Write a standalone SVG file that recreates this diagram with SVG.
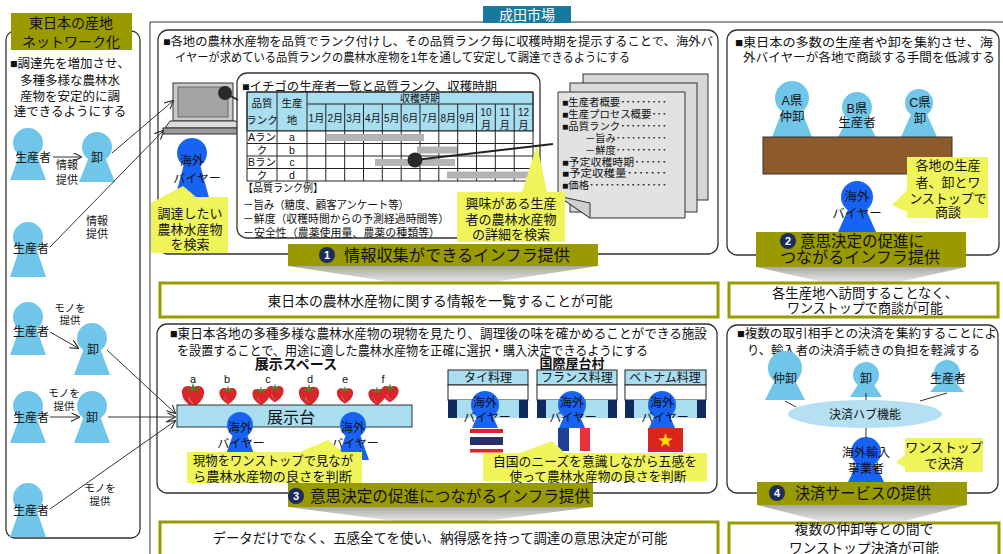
<svg xmlns="http://www.w3.org/2000/svg" width="1003" height="554" viewBox="0 0 1003 554">
<defs>
<style>
text{font-family:"Liberation Sans","Noto Sans CJK JP",sans-serif;fill:#111}
.m{text-anchor:middle}
.f10{font-size:10px}.f105{font-size:10.5px}.f11{font-size:11px}.f12{font-size:12px}.f125{font-size:12.5px}.f13{font-size:13px}.f135{font-size:13.5px}.f14{font-size:14px}.f16{font-size:16px}
.b{font-weight:bold}
.pn{fill:#fff;stroke:#333;stroke-width:1.3}
.bn{fill:#999900}
.rs{fill:#fff;stroke:#999900;stroke-width:3}
.lb{fill:#6fc6e8}
.bb{fill:#1763f4}
.cl{fill:#eef45a}
.ln{stroke:#333;stroke-width:1;fill:none}
.gl{stroke:#222;stroke-width:1;fill:none}
.hd{fill:#a9ddf0;stroke:#222;stroke-width:1}
.bar{fill:#b3b3b3}
.nv{fill:#0e2a5e}
.lt{fill:#a9ddf0}
.num{fill:#1c2d5c}
.numt{fill:#fff;font-weight:bold;font-size:11px;text-anchor:middle}
.wd{fill:url(#wg)}
.pg{stroke:#333;stroke-width:1}
</style>
<linearGradient id="wg" x1="0" y1="0" x2="0" y2="1">
<stop offset="0" stop-color="#a8a8a8"/><stop offset="1" stop-color="#ebebeb"/>
</linearGradient>
<marker id="ar" viewBox="0 0 10 10" refX="9" refY="5" markerWidth="9" markerHeight="9" orient="auto" markerUnits="userSpaceOnUse">
<path d="M0,0 L10,5 L0,10" fill="none" stroke="#333" stroke-width="1.3"/>
</marker>
<g id="berry">
<path d="M0,-6 C6,-9 11,-6 10,0 C9,6 4,10 0,12 C-4,10 -9,6 -10,0 C-11,-6 -6,-9 0,-6 Z" fill="#d8262a"/>
<path d="M-4,3 C-3,6 -1,8 0,9" stroke="#f07070" stroke-width="1" fill="none"/>
<path d="M-7,-7 L-2,-4 L0,-10 L2,-4 L8,-7 L3,-3 L-3,-3 Z" fill="#3d8c2c"/>
</g>
</defs>

<rect width="1003" height="554" fill="#fff"/>

<!-- left column: eastern Japan production network -->
<g id="left-panel">
<rect x="6" y="31" width="134" height="507" rx="9" class="pn"/>
<rect x="11" y="13" width="121" height="37" class="bn"/>
<text x="71" y="28" class="m f14">東日本の産地</text>
<text x="71" y="47" class="m f14">ネットワーク化</text>
<text x="70" y="68" class="m f125">■調達先を増加させ、</text>
<text x="70" y="85" class="m f125">多種多様な農林水</text>
<text x="70" y="101" class="m f125">産物を安定的に調</text>
<text x="70" y="116" class="m f125">達できるようにする</text>
</g>

<g id="producer-1"><circle cx="28" cy="143" r="15" class="lb"/><polygon points="21,150.5 35,150.5 46,180 10,180" class="lb"/><text x="33" y="161.5" class="m f12">生産者</text></g>
<g id="wholesaler-1"><circle cx="97" cy="147" r="15" class="lb"/><polygon points="90,154.5 104,154.5 115,182 79,182" class="lb"/><text x="97" y="161.5" class="m f12">卸</text></g>
<g id="producer-2"><circle cx="28" cy="237" r="15" class="lb"/><polygon points="21,244.5 35,244.5 46,277 10,277" class="lb"/><text x="31" y="252.5" class="m f12">生産者</text></g>
<g id="producer-3"><circle cx="28" cy="317" r="15" class="lb"/><polygon points="21,324.5 35,324.5 46,355 10,355" class="lb"/><text x="31" y="335.5" class="m f12">生産者</text></g>
<g id="wholesaler-3"><circle cx="92" cy="338" r="15" class="lb"/><polygon points="85,345.5 99,345.5 110,375 74,375" class="lb"/><text x="93" y="353.5" class="m f12">卸</text></g>
<g id="producer-4"><circle cx="28" cy="406" r="15" class="lb"/><polygon points="21,413.5 35,413.5 46,443 10,443" class="lb"/><text x="31" y="421.5" class="m f12">生産者</text></g>
<g id="wholesaler-4"><circle cx="92" cy="406" r="15" class="lb"/><polygon points="85,413.5 99,413.5 110,443 74,443" class="lb"/><text x="92" y="421.5" class="m f12">卸</text></g>
<g id="producer-5"><circle cx="28" cy="498" r="15" class="lb"/><polygon points="21,505.5 35,505.5 46,537 10,537" class="lb"/><text x="31" y="514.5" class="m f12">生産者</text></g>

<!-- flow labels -->
<g id="flow-labels">
<text x="67" y="169" class="m f11">情報</text><text x="67" y="184" class="m f11">提供</text>
<text x="97" y="225" class="m f11">情報</text><text x="97" y="238" class="m f11">提供</text>
<text x="70" y="312" class="m f105">モノを</text><text x="70" y="324" class="m f105">提供</text>
<text x="64" y="397" class="m f105">モノを</text><text x="64" y="410" class="m f105">提供</text>
<text x="100" y="492" class="m f105">モノを</text><text x="100" y="505" class="m f105">提供</text>
</g>

<!-- Narita market frame -->
<g id="narita-frame">
<path d="M150,554 V22 H1003" class="ln" stroke-width="1.2"/>
<rect x="483" y="6" width="88" height="17" fill="#17799e"/>
<text x="527" y="20" class="m f14" style="fill:#fff">成田市場</text>
</g>

<!-- 1: information infrastructure -->
<g id="panel-1">
<rect x="158" y="30" width="560" height="224" rx="10" class="pn"/>
<text x="163" y="46" class="f12" textLength="550" lengthAdjust="spacingAndGlyphs">■各地の農林水産物を品質でランク付けし、その品質ランク毎に収穫時期を提示することで、海外バ</text>
<text x="175" y="62" class="f12" textLength="455" lengthAdjust="spacingAndGlyphs">イヤーが求めている品質ランクの農林水産物を1年を通して安定して調達できるようにする</text>
</g>

<g id="laptop">
<rect x="173" y="83" width="60" height="38" fill="#c9c9c9" stroke="#333" stroke-width="1"/>
<rect x="178" y="87" width="50" height="30" fill="#a3a3a3" stroke="#555" stroke-width="0.8"/>
<polygon points="170,121 236,121 241,128 165,128" fill="#dcdcdc" stroke="#333" stroke-width="1"/>
<rect x="163" y="128" width="80" height="6" fill="#9a9a9a" stroke="#333" stroke-width="1"/>
</g>

<g id="buyer-1"><circle cx="192" cy="153" r="15" class="bb"/><polygon points="185,160.5 199,160.5 211,205 173,205" class="bb"/><text x="192" y="164.5" class="m f12">海外</text><text x="197" y="182.5" class="m f12">バイヤー</text></g>

<g id="strawberry-table">
<rect x="237" y="73" width="303" height="165" rx="10" class="pn"/>
<text x="242" y="90.5" class="f12" textLength="255" lengthAdjust="spacingAndGlyphs">■イチゴの生産者一覧と品質ランク、収穫時期</text>
<rect x="247" y="92" width="286" height="39" class="hd"/>
<rect x="247" y="131" width="286" height="50" fill="#fff"/>
<path class="gl" d="M247,92H533M307,104H533M247,131H533M247,143.5H533M247,156H533M247,168.5H533M247,181H533M247,92V181M277,92V181M307,92V181M533,92V181M325.8,104V181M344.7,104V181M363.5,104V181M382.3,104V181M401.2,104V181M420,104V181M438.8,104V181M457.7,104V181M476.5,104V181M495.3,104V181M514.2,104V181"/>
<rect x="326" y="134" width="98" height="7" class="bar"/>
<rect x="417" y="146.5" width="40" height="7" class="bar"/>
<rect x="375" y="159" width="80" height="7" class="bar"/>
<rect x="447" y="171.5" width="81" height="7" class="bar"/>
<g class="f105">
<text x="262" y="106.7" class="m">品質</text><text x="262" y="123.7" class="m">ランク</text>
<text x="292" y="106.7" class="m">生産</text><text x="292" y="123.7" class="m">地</text>
<text x="262" y="140.7" class="m">Aラン</text><text x="262" y="153.7" class="m">ク</text>
<text x="262" y="165.7" class="m">Bラン</text><text x="262" y="178.7" class="m">ク</text>
<text x="292" y="140.7" class="m">a</text><text x="292" y="153.7" class="m">b</text>
<text x="292" y="165.7" class="m">c</text><text x="292" y="178.7" class="m">d</text>
</g>
<g class="f10">
<text x="420" y="101.5" class="m">収穫時期</text>
<text x="316.4" y="121.7" class="m">1月</text><text x="335.2" y="121.7" class="m">2月</text><text x="354.1" y="121.7" class="m">3月</text>
<text x="372.9" y="121.7" class="m">4月</text><text x="391.7" y="121.7" class="m">5月</text><text x="410.6" y="121.7" class="m">6月</text>
<text x="429.4" y="121.7" class="m">7月</text><text x="448.3" y="121.7" class="m">8月</text><text x="467.1" y="121.7" class="m">9月</text>
<text x="485.9" y="115.5" class="m">10</text><text x="485.9" y="128.5" class="m">月</text>
<text x="504.8" y="115.5" class="m">11</text><text x="504.8" y="128.5" class="m">月</text>
<text x="523.6" y="115.5" class="m">12</text><text x="523.6" y="128.5" class="m">月</text>
</g>
<text x="243" y="192" class="f11" textLength="80" lengthAdjust="spacingAndGlyphs">【品質ランク例】</text>
<text x="243" y="209" class="f11" textLength="166" lengthAdjust="spacingAndGlyphs">－旨み（糖度、顧客アンケート等）</text>
<text x="243" y="223" class="f11" textLength="206" lengthAdjust="spacingAndGlyphs">－鮮度（収穫時間からの予測経過時間等）</text>
<text x="243" y="237" class="f11" textLength="197" lengthAdjust="spacingAndGlyphs">－安全性（農薬使用量、農薬の種類等）</text>
</g>

<g id="detail-sheets">
<rect x="583" y="74" width="125" height="126" fill="#d6d6d6" class="pg"/>
<rect x="570" y="83" width="127" height="129" fill="#dadada" class="pg"/>
<polygon points="558,92 685,92 685,218 590,218 558,196" fill="#e2e2e2" class="pg"/>
<polygon points="558,196 590,203 590,218" fill="#cfcfcf" class="pg"/>
<g class="f10">
<text x="562" y="105.7" textLength="105" lengthAdjust="spacingAndGlyphs">■生産者概要･････････</text>
<text x="562" y="117.7" textLength="105" lengthAdjust="spacingAndGlyphs">■生産プロセス概要･･･</text>
<text x="562" y="129.7" textLength="105" lengthAdjust="spacingAndGlyphs">■品質ランク･････････</text>
<text x="585" y="141.7" textLength="82" lengthAdjust="spacingAndGlyphs">－旨み･･････････</text>
<text x="585" y="153.7" textLength="82" lengthAdjust="spacingAndGlyphs">－鮮度･･････････</text>
<text x="562" y="165.7" textLength="105" lengthAdjust="spacingAndGlyphs">■予定収穫時期･･････</text>
<text x="562" y="176.7" textLength="105" lengthAdjust="spacingAndGlyphs">■予定収穫量･･･････</text>
<text x="562" y="188.7" textLength="105" lengthAdjust="spacingAndGlyphs">■価格･･･････････････</text>
</g>
</g>

<g id="note-search">
<path d="M151,203 L183,186 L196,197 L228,197 L228,253 L151,253 Z" class="cl"/>
<text x="190" y="217.5" class="m f13">調達したい</text>
<text x="190" y="233.5" class="m f13">農林水産物</text>
<text x="190" y="248.5" class="m f13">を検索</text>
</g>

<g id="note-detail">
<path d="M457,192 L522,192 L537,145 L547,192 L565,192 L565,242 L457,242 Z" class="cl"/>
<text x="511" y="207.5" class="m f13">興味がある生産</text>
<text x="511" y="223.5" class="m f13">者の農林水産物</text>
<text x="511" y="238.5" class="m f13">の詳細を検索</text>
</g>

<g id="banner-1">
<polygon points="288,266 598,266 480,284 405,284" class="wd"/>
<rect x="288" y="244" width="310" height="22" class="bn"/>
<circle cx="327" cy="255" r="8" class="num"/><text x="327" y="259" class="numt">1</text>
<text x="344" y="261" class="f16" textLength="226" lengthAdjust="spacingAndGlyphs">情報収集ができるインフラ提供</text>
</g>

<g id="result-1">
<rect x="160" y="283" width="558" height="34" class="rs"/>
<text x="440" y="305.5" class="m f14" textLength="345" lengthAdjust="spacingAndGlyphs">東日本の農林水産物に関する情報を一覧することが可能</text>
</g>

<!-- 2: one-stop negotiation -->
<g id="panel-2">
<rect x="727" y="30" width="272" height="225" rx="10" class="pn"/>
<text x="735" y="46.5" class="f125" textLength="258" lengthAdjust="spacingAndGlyphs">■東日本の多数の生産者や卸を集約させ、海</text>
<text x="743" y="61.5" class="f125" textLength="252" lengthAdjust="spacingAndGlyphs">外バイヤーが各地で商談する手間を低減する</text>
</g>
<g id="pref-a"><circle cx="792" cy="98" r="17" class="lb"/><polygon points="784,106.5 800,106.5 812,137 772,137" class="lb"/><text x="792" y="104.5" class="m f125">A県</text><text x="792" y="120.5" class="m f125">仲卸</text></g>
<g id="pref-b"><circle cx="857" cy="107" r="15" class="lb"/><polygon points="850,114.5 864,114.5 876,137 838,137" class="lb"/><text x="857" y="112.5" class="m f125">B県</text><text x="857" y="126.5" class="m f125">生産者</text></g>
<g id="pref-c"><circle cx="919" cy="103" r="14" class="lb"/><polygon points="913,110 925,110 937,137 901,137" class="lb"/><text x="920" y="106.5" class="m f125">C県</text><text x="920" y="122.5" class="m f125">卸</text></g>
<g id="meeting-table"><rect x="763" y="137" width="189" height="37" fill="#8d5a2b" stroke="#333" stroke-width="1"/></g>
<g id="buyer-2"><circle cx="857" cy="197" r="16" class="bb"/><polygon points="850,205 864,205 876,232 838,232" class="bb"/><text x="857" y="201" class="m f125">海外</text><text x="857" y="217.5" class="m f125">バイヤー</text></g>
<g id="note-onestop">
<path d="M907,157 L988,157 L988,218 L907,218 L907,212 L892,205 L907,190 Z" class="cl"/>
<text x="948" y="170" class="m f13">各地の生産</text>
<text x="948" y="186.5" class="m f13">者、卸とワ</text>
<text x="948" y="202.5" class="m f13">ンストップで</text>
<text x="948" y="217" class="m f13">商談</text>
</g>
<g id="banner-2">
<polygon points="756,267 966,267 895,283 827,283" class="wd"/>
<rect x="756" y="232" width="210" height="35" class="bn"/>
<circle cx="788" cy="241" r="8" class="num"/><text x="788" y="245" class="numt">2</text>
<text x="800" y="247" class="f16" textLength="124" lengthAdjust="spacingAndGlyphs">意思決定の促進に</text>
<text x="780" y="263" class="f16" textLength="160" lengthAdjust="spacingAndGlyphs">つながるインフラ提供</text>
</g>
<g id="result-2">
<rect x="729" y="283" width="269" height="34" class="rs"/>
<text x="865" y="298" class="m f135" textLength="186" lengthAdjust="spacingAndGlyphs">各生産地へ訪問することなく、</text>
<text x="865" y="313" class="m f135" textLength="156" lengthAdjust="spacingAndGlyphs">ワンストップで商談が可能</text>
</g>

<!-- 3: showroom and food stalls -->
<g id="panel-3">
<rect x="157" y="324" width="560" height="169" rx="10" class="pn"/>
<text x="170" y="337.5" class="f13" textLength="537" lengthAdjust="spacingAndGlyphs">■東日本各地の多種多様な農林水産物の現物を見たり、調理後の味を確かめることができる施設</text>
<text x="177" y="354.5" class="f13" textLength="471" lengthAdjust="spacingAndGlyphs">を設置することで、用途に適した農林水産物を正確に選択・購入決定できるようにする</text>
</g>

<g id="display-space">
<text x="296" y="369" class="m f14 b">展示スペース</text>
<g class="f11">
<text x="193" y="382.5" class="m">a</text><text x="227" y="382.5" class="m">b</text><text x="268" y="382.5" class="m">c</text>
<text x="310" y="382.5" class="m">d</text><text x="345" y="382.5" class="m">e</text><text x="383" y="382.5" class="m">f</text>
</g>
<use href="#berry" transform="translate(193,394) scale(1.1)"/>
<use href="#berry" transform="translate(228,394) scale(0.85)"/>
<use href="#berry" transform="translate(261,395) scale(0.85)"/>
<use href="#berry" transform="translate(275,392) scale(0.85)"/>
<use href="#berry" transform="translate(309,394) scale(1.0)"/>
<use href="#berry" transform="translate(345,394) scale(0.8)"/>
<use href="#berry" transform="translate(377,395) scale(0.85)"/>
<use href="#berry" transform="translate(390,392) scale(0.85)"/>
<rect x="177" y="405" width="235" height="22" fill="#a9ddf0" stroke="#333" stroke-width="1"/>
<text x="291" y="422.5" class="m f16">展示台</text>
</g>
<g id="buyer-3a"><circle cx="240" cy="425" r="13" class="bb"/><polygon points="234,431.5 246,431.5 256,460 224,460" class="bb"/><text x="240" y="431.5" class="m f12">海外</text><text x="241" y="447.5" class="m f12">バイヤー</text></g>
<g id="buyer-3b"><circle cx="353" cy="425" r="13" class="bb"/><polygon points="347,431.5 359,431.5 369,460 337,460" class="bb"/><text x="353" y="431.5" class="m f12">海外</text><text x="355" y="447.5" class="m f12">バイヤー</text></g>
<g id="note-showroom">
<path d="M187,452 L300,452 L328,440 L342,452 L362,452 L362,483 L187,483 Z" class="cl"/>
<text x="193" y="464.5" class="f13" textLength="160" lengthAdjust="spacingAndGlyphs">現物をワンストップで見なが</text>
<text x="193" y="481" class="f13" textLength="159" lengthAdjust="spacingAndGlyphs">ら農林水産物の良さを判断</text>
</g>

<g id="food-village">
<text x="572" y="367.5" class="m f13 b">国際屋台村</text>
</g>
<g id="stall-thai">
<rect x="448" y="370" width="80" height="15" class="hd"/>
<rect x="448" y="385" width="80" height="15" fill="#fff" stroke="#222" stroke-width="1"/>
<rect x="448" y="400" width="80" height="18" class="lt"/>
<rect x="448" y="400" width="9" height="18" class="nv"/><rect x="483" y="400" width="10" height="18" class="nv"/><rect x="519" y="400" width="9" height="18" class="nv"/>
<text x="488" y="382" class="m f12">タイ料理</text>
<rect x="470" y="429" width="33" height="4" fill="#d9252b"/><rect x="470" y="433" width="33" height="4" fill="#fff"/>
<rect x="470" y="437" width="33" height="8" fill="#27306b"/><rect x="470" y="445" width="33" height="4" fill="#fff"/>
<rect x="470" y="449" width="33" height="3.5" fill="#d9252b"/>
<circle cx="485" cy="405" r="14" class="bb"/><polygon points="479,412 491,412 498,428 472,428" class="bb"/>
<text x="485" y="406.5" class="m f12">海外</text><text x="487" y="421.5" class="m f12">バイヤー</text>
</g>
<g id="stall-france">
<rect x="537" y="370" width="80" height="15" class="hd"/>
<rect x="537" y="385" width="80" height="15" fill="#fff" stroke="#222" stroke-width="1"/>
<rect x="537" y="400" width="80" height="18" class="lt"/>
<rect x="537" y="400" width="9" height="18" class="nv"/><rect x="572" y="400" width="10" height="18" class="nv"/><rect x="608" y="400" width="9" height="18" class="nv"/>
<text x="577" y="382" class="m f12">フランス料理</text>
<rect x="558" y="428" width="11" height="23" fill="#1f3f99"/><rect x="569" y="428" width="11" height="23" fill="#fff"/><rect x="580" y="428" width="10" height="23" fill="#e8323c"/>
<circle cx="572" cy="405" r="14" class="bb"/><polygon points="566,412 578,412 585,428 559,428" class="bb"/>
<text x="572" y="406.5" class="m f12">海外</text><text x="573" y="421.5" class="m f12">バイヤー</text>
</g>
<g id="stall-vietnam">
<rect x="625" y="370" width="81" height="15" class="hd"/>
<rect x="625" y="385" width="81" height="15" fill="#fff" stroke="#222" stroke-width="1"/>
<rect x="625" y="400" width="81" height="18" class="lt"/>
<rect x="625" y="400" width="9" height="18" class="nv"/><rect x="661" y="400" width="10" height="18" class="nv"/><rect x="697" y="400" width="9" height="18" class="nv"/>
<text x="665" y="382" class="m f12">ベトナム料理</text>
<rect x="648" y="428" width="35" height="24" fill="#da251d"/>
<polygon points="665.5,433 667.3,438.3 672.9,438.4 668.4,441.7 670,447 665.5,443.8 661,447 662.6,441.7 658.1,438.4 663.7,438.3" fill="#ffde00"/>
<circle cx="662" cy="405" r="14" class="bb"/><polygon points="656,412 668,412 675,428 649,428" class="bb"/>
<text x="662" y="406.5" class="m f12">海外</text><text x="665" y="421.5" class="m f12">バイヤー</text>
</g>
<g id="note-stalls">
<path d="M483,453 L520,453 L552,441 L565,453 L707,453 L707,481 L483,481 Z" class="cl"/>
<text x="595" y="465.5" class="m f13" textLength="204" lengthAdjust="spacingAndGlyphs">自国のニーズを意識しながら五感を</text>
<text x="598" y="481" class="m f13" textLength="177" lengthAdjust="spacingAndGlyphs">使って農林水産物の良さを判断</text>
</g>
<g id="banner-3">
<polygon points="288,507 593,507 478,522 402,522" class="wd"/>
<rect x="288" y="483" width="305" height="24" class="bn"/>
<circle cx="296" cy="496" r="8" class="num"/><text x="296" y="500" class="numt">3</text>
<text x="310" y="502" class="f16" textLength="280" lengthAdjust="spacingAndGlyphs">意思決定の促進につながるインフラ提供</text>
</g>
<g id="result-3">
<rect x="160" y="522" width="558" height="40" class="rs"/>
<text x="440" y="543" class="m f135" textLength="455" lengthAdjust="spacingAndGlyphs">データだけでなく、五感全てを使い、納得感を持って調達の意思決定が可能</text>
</g>

<!-- 4: settlement hub -->
<g id="panel-4">
<rect x="727" y="325" width="271" height="168" rx="10" class="pn"/>
<text x="737" y="337.5" class="f125" textLength="260" lengthAdjust="spacingAndGlyphs">■複数の取引相手との決済を集約することによ</text>
<text x="747" y="354.5" class="f125" textLength="233" lengthAdjust="spacingAndGlyphs">り、輸入者の決済手続きの負担を軽減する</text>
</g>
<g id="hub-middleman"><circle cx="785" cy="368" r="17" class="lb"/><polygon points="777,376.5 793,376.5 805,400 765,400" class="lb"/><text x="785" y="382.5" class="m f12">仲卸</text></g>
<g id="hub-wholesaler"><circle cx="866" cy="375" r="13" class="lb"/><polygon points="860,381.5 872,381.5 882,397 850,397" class="lb"/><text x="866" y="382.5" class="m f12">卸</text></g>
<g id="hub-producer"><circle cx="947" cy="373" r="13" class="lb"/><polygon points="941,379.5 953,379.5 964,392 930,392" class="lb"/><text x="948" y="382.5" class="m f12">生産者</text></g>
<g id="settlement-hub">
<ellipse cx="865" cy="414" rx="77" ry="14" fill="#b5e0f2"/>
<text x="865" y="418.5" class="m f12">決済ハブ機能</text>
</g>
<g id="importer"><circle cx="866" cy="452" r="15" class="bb"/><polygon points="859,459.5 873,459.5 884,482 848,482" class="bb"/><text x="866" y="456.5" class="m f12">海外輸入</text><text x="866" y="472.5" class="m f12">事業者</text></g>
<g id="note-settle">
<path d="M905,438 L983,438 L983,472 L905,472 L905,468 L896,462 L905,455 Z" class="cl"/>
<text x="944" y="451.5" class="m f13">ワンストップ</text>
<text x="944" y="467.5" class="m f13">で決済</text>
</g>
<g id="banner-4">
<polygon points="757,505 967,505 897,523 828,523" class="wd"/>
<rect x="757" y="482" width="210" height="23" class="bn"/>
<circle cx="777" cy="493" r="8" class="num"/><text x="777" y="497" class="numt">4</text>
<text x="795" y="499" class="f16" textLength="136" lengthAdjust="spacingAndGlyphs">決済サービスの提供</text>
</g>
<g id="result-4">
<rect x="729" y="523" width="270" height="40" class="rs"/>
<text x="864" y="533.5" class="m f135" textLength="139" lengthAdjust="spacingAndGlyphs">複数の仲卸等との間で</text>
<text x="864" y="552.5" class="m f135" textLength="150" lengthAdjust="spacingAndGlyphs">ワンストップ決済が可能</text>
</g>

<!-- connectors -->
<g id="connectors">
<line x1="53" y1="157" x2="81" y2="157" class="ln" marker-end="url(#ar)"/>
<line x1="112" y1="153" x2="173" y2="101" class="ln" marker-end="url(#ar)"/>
<line x1="50" y1="247" x2="163" y2="131" class="ln" marker-end="url(#ar)"/>
<line x1="50" y1="332" x2="78" y2="348" class="ln" marker-end="url(#ar)"/>
<line x1="50" y1="417" x2="79" y2="417" class="ln" marker-end="url(#ar)"/>
<line x1="107" y1="350" x2="175" y2="413" class="ln" marker-end="url(#ar)"/>
<line x1="108" y1="417" x2="175" y2="417" class="ln" marker-end="url(#ar)"/>
<line x1="50" y1="509" x2="175" y2="421" class="ln" marker-end="url(#ar)"/>
<line x1="225" y1="93" x2="238" y2="100" stroke="#222" stroke-width="1.5"/>
<circle cx="225" cy="93" r="7" fill="#2a2a2a"/>
<line x1="415" y1="160" x2="553" y2="144" stroke="#222" stroke-width="2"/>
<circle cx="415" cy="160" r="7.5" fill="#2a2a2a"/>
<line x1="785" y1="401" x2="796" y2="407" class="ln"/>
<line x1="866" y1="393" x2="866" y2="400" class="ln"/>
<line x1="947" y1="393" x2="920" y2="401" class="ln"/>
<line x1="866" y1="428" x2="866" y2="438" class="ln"/>
</g>
</svg>
